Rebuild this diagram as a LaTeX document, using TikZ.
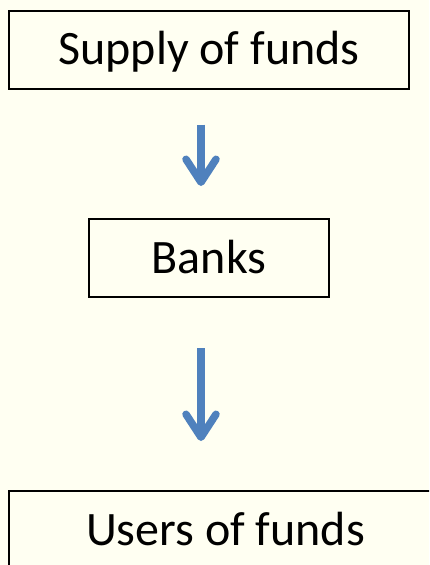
\documentclass[tikz,border=0pt]{standalone}
\usepackage{fontspec}
\setmainfont{Carlito}
\usetikzlibrary{arrows.meta}
\definecolor{paper}{HTML}{FFFFF2}
\definecolor{flowblue}{HTML}{4F81BD}
\begin{document}
\begin{tikzpicture}[x=1pt,y=-1pt,
		box/.style={draw,line width=2pt,font=\fontsize{48}{57}\selectfont,text height=30pt,text depth=0pt,minimum height=78pt},
		flow/.style={flowblue,line width=7.5pt,-{Straight Barb[length=23pt,width=30pt,round]}}]
		\fill[paper] (0,0) rectangle (429,565);
		\useasboundingbox (0,0) rectangle (429,565);
		\clip (0,0) rectangle (429,565);
		
		\node[box,minimum width=400pt] (supply) at (209,49.5) {Supply of funds};
		\node[box,minimum width=240pt] (banks) at (209,258) {Banks};
		\node[box,minimum width=433pt] (users) at (225.5,530) {Users of funds};
		
		\draw[flow,shorten <=35pt,shorten >=32pt] ([xshift=-8pt]supply.south) -- ([xshift=-8pt]banks.north);
		\draw[flow,shorten <=50pt,shorten >=49pt] ([xshift=-8pt]banks.south) -- ([xshift=-24.5pt]users.north);
		\end{tikzpicture}
\end{document}
